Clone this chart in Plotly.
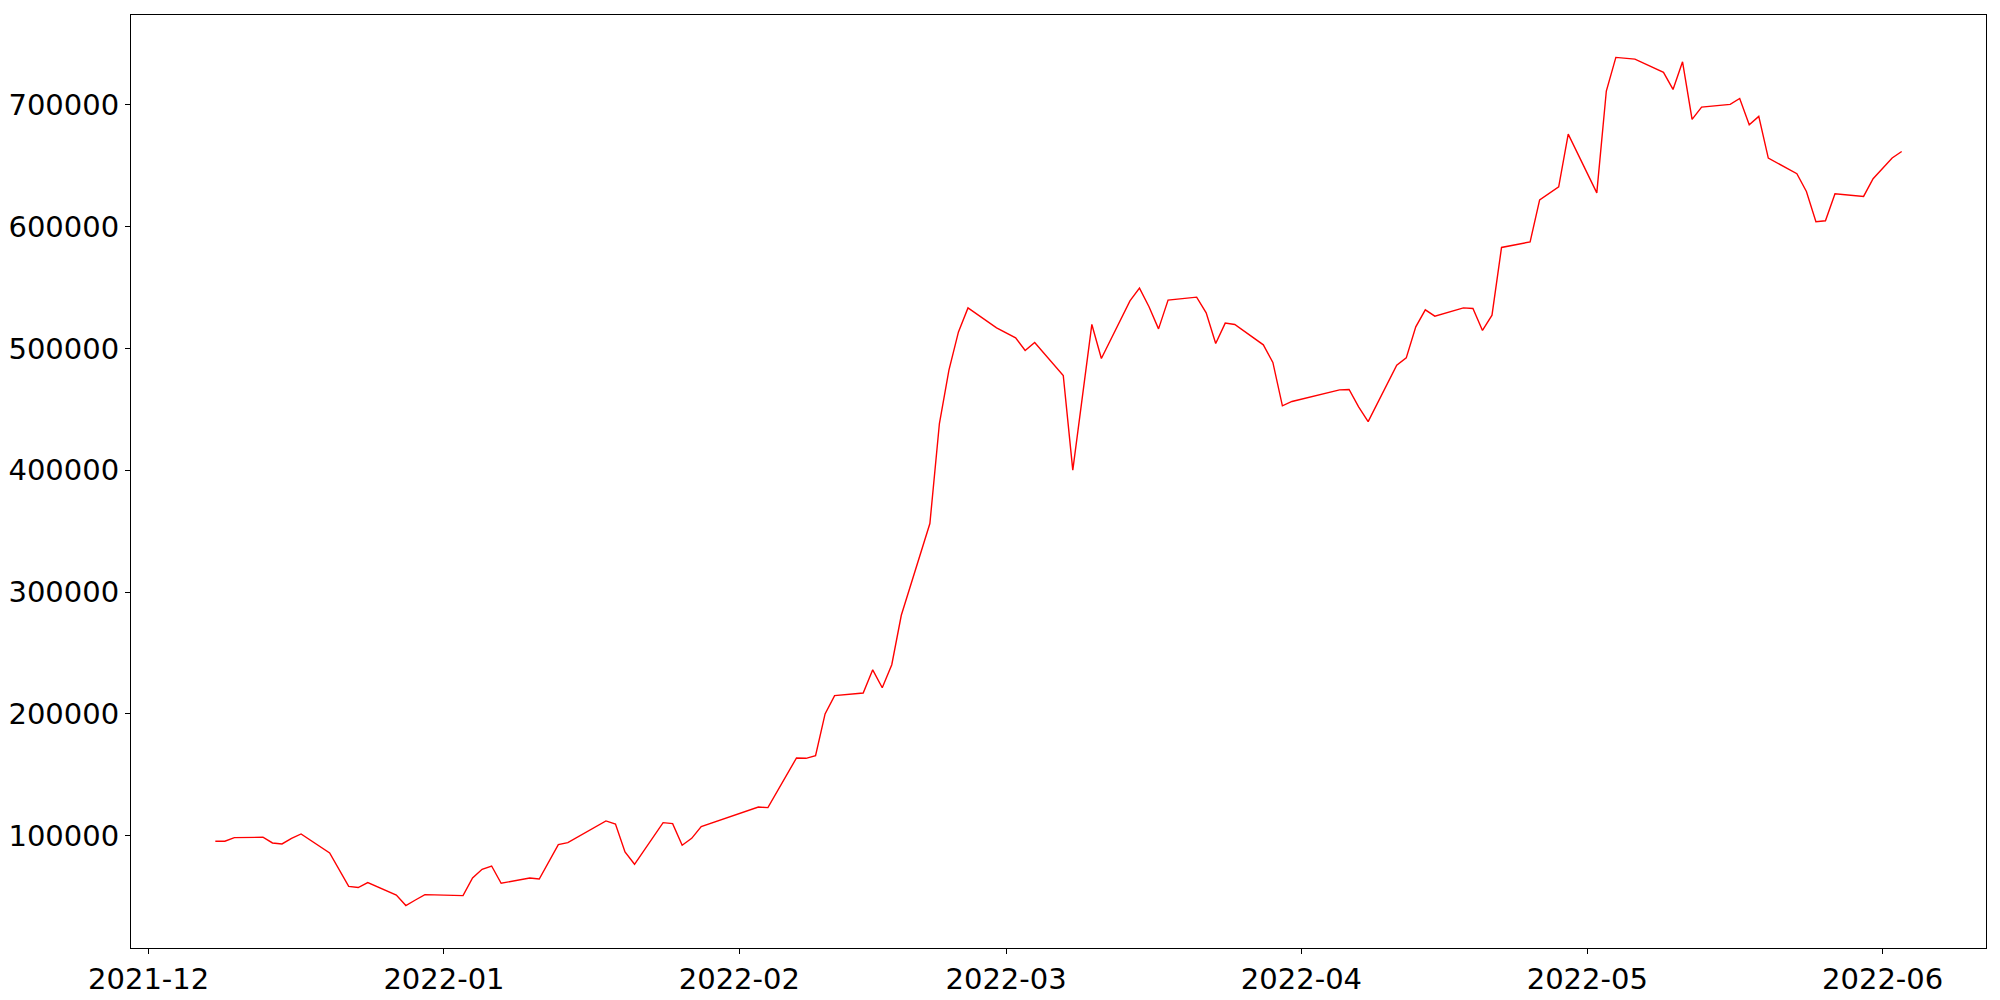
import pandas as pd
import plotly.graph_objects as go

# dias de negociação (sem fins de semana / feriados)
datas = [
    "2021-12-08", "2021-12-09", "2021-12-10", "2021-12-13", "2021-12-14", "2021-12-15",
    "2021-12-16", "2021-12-17", "2021-12-20", "2021-12-21", "2021-12-22", "2021-12-23",
    "2021-12-24", "2021-12-27", "2021-12-28", "2021-12-29", "2021-12-30",
    "2022-01-03", "2022-01-04", "2022-01-05", "2022-01-06", "2022-01-07", "2022-01-10",
    "2022-01-11", "2022-01-12", "2022-01-13", "2022-01-14", "2022-01-17", "2022-01-18",
    "2022-01-19", "2022-01-20", "2022-01-21", "2022-01-24", "2022-01-25", "2022-01-26",
    "2022-01-27", "2022-01-28",
    "2022-02-03", "2022-02-04", "2022-02-07", "2022-02-08", "2022-02-09", "2022-02-10",
    "2022-02-11", "2022-02-14", "2022-02-15", "2022-02-16", "2022-02-17", "2022-02-18",
    "2022-02-21", "2022-02-22", "2022-02-23", "2022-02-24", "2022-02-25", "2022-02-28",
    "2022-03-02", "2022-03-03", "2022-03-04", "2022-03-07", "2022-03-08", "2022-03-10",
    "2022-03-11", "2022-03-14", "2022-03-15", "2022-03-16", "2022-03-17", "2022-03-18",
    "2022-03-21", "2022-03-22", "2022-03-23", "2022-03-24", "2022-03-25", "2022-03-28",
    "2022-03-29", "2022-03-30", "2022-03-31",
    "2022-04-01", "2022-04-04", "2022-04-05", "2022-04-06", "2022-04-07", "2022-04-08",
    "2022-04-11", "2022-04-12", "2022-04-13", "2022-04-14", "2022-04-15", "2022-04-18",
    "2022-04-19", "2022-04-20", "2022-04-21", "2022-04-22", "2022-04-25", "2022-04-26",
    "2022-04-27", "2022-04-28", "2022-04-29",
    "2022-05-02", "2022-05-03", "2022-05-04", "2022-05-06", "2022-05-09", "2022-05-10",
    "2022-05-11", "2022-05-12", "2022-05-13", "2022-05-16", "2022-05-17", "2022-05-18",
    "2022-05-19", "2022-05-20", "2022-05-23", "2022-05-24", "2022-05-25", "2022-05-26",
    "2022-05-27", "2022-05-30", "2022-05-31",
    "2022-06-02", "2022-06-03",
]

valores = [
    95500, 95500, 98500, 98800, 94100, 93300,
    97800, 101500, 85900, 72200, 58500, 57500,
    61600, 51400, 42700, 47300, 51700,
    50900, 65400, 72500, 75200, 61000, 65400,
    64500, 78800, 92800, 94400, 107800, 112200,
    109700, 86700, 76600, 110800, 110000, 92200,
    97900, 107500,
    123600, 123100, 163900, 163600, 165800, 200000,
    215100, 217200, 236200, 221500, 240400, 281000,
    356300, 438400, 482200, 513600, 533300, 516900,
    508700, 498300, 504900, 477800, 400100, 519700,
    491800, 539100, 549500, 534200, 516100, 539700,
    542100, 529200, 504100, 520800, 519700, 503000,
    488500, 452900, 456500,
    458400, 463900, 466000, 466300, 452100, 440000,
    486300, 492300, 517700, 531700, 526500, 533300,
    532800, 514800, 527300, 582900, 587500, 622000,
    627200, 632700, 675900,
    627700, 711300, 738900, 737500, 726600, 712600,
    735300, 688000, 698100, 700300, 705200, 683600,
    690500, 656300, 643400, 628900, 604000, 604800,
    627000, 624800, 639300,
    656300, 661700,
]

meses = ["2021-12-01", "2022-01-01", "2022-02-01", "2022-03-01",
         "2022-04-01", "2022-05-01", "2022-06-01"]
valores_y = [100000, 200000, 300000, 400000, 500000, 600000, 700000]

df = pd.DataFrame({"data": pd.to_datetime(datas), "valor": valores})

# margens de 5% como no matplotlib
d0, d1 = df["data"].min(), df["data"].max()
mx = (d1 - d0) * 0.05
v0, v1 = df["valor"].min(), df["valor"].max()
my = (v1 - v0) * 0.05

fig = go.Figure()
fig.add_trace(go.Scatter(x=df["data"], y=df["valor"], mode="lines",
                         line=dict(color="red", width=1.4), showlegend=False))

fonte = dict(family="DejaVu Sans", size=29, color="black")

# a página tem 8px de margem no body
fig.update_layout(
    width=1992, height=992,
    plot_bgcolor="white", paper_bgcolor="white",
    margin=dict(l=123, r=14, t=7, b=52),
    font=fonte,
)
fig.update_xaxes(
    range=[d0 - mx, d1 + mx], automargin=False,
    tickvals=pd.to_datetime(meses), tickformat="%Y-%m",
    showgrid=False, zeroline=False,
    showline=True, mirror=True, linecolor="black", linewidth=1,
    ticks="outside", ticklen=5, tickwidth=1, tickcolor="black",
    tickfont=fonte,
)
fig.update_yaxes(
    range=[v0 - my, v1 + my], automargin=False,
    tickvals=valores_y, tickformat="d",
    showgrid=False, zeroline=False,
    showline=True, mirror=True, linecolor="black", linewidth=1,
    ticks="outside", ticklen=5, tickwidth=1, tickcolor="black",
    tickfont=fonte,
)

fig.write_html("out.html")
